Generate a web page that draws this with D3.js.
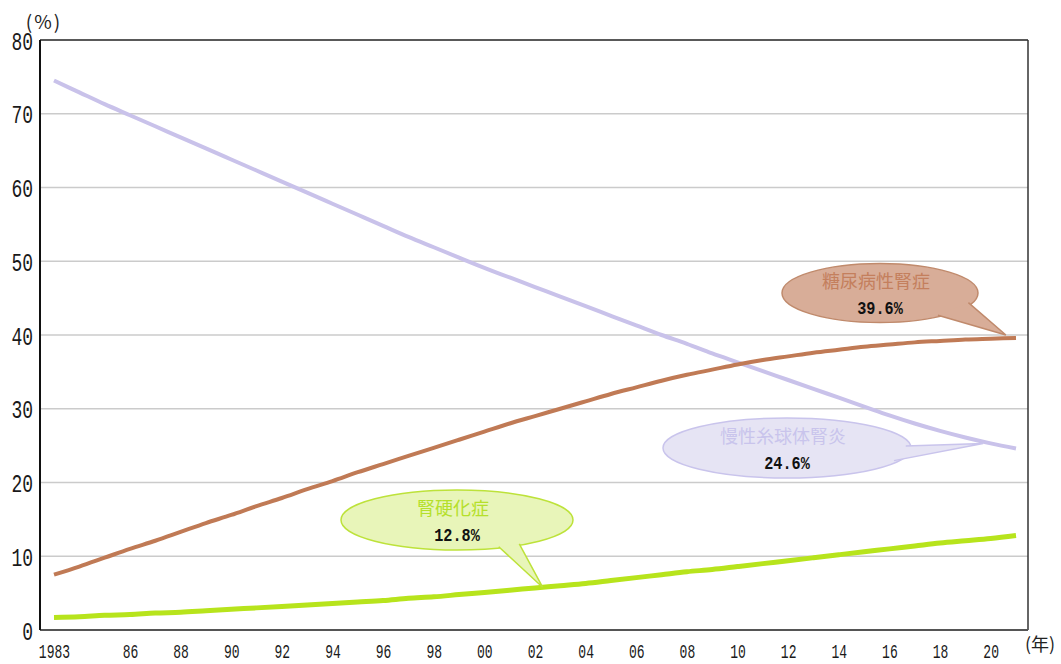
<!DOCTYPE html>
<html>
<head>
<meta charset="utf-8">
<script src="https://cdn.jsdelivr.net/npm/d3@7"></script>
<style>
  html, body { margin: 0; padding: 0; background: #fff; }
  svg { display: block; }
</style>
</head>
<body>
<svg id="chart" width="1061" height="664"></svg>
<script>
// Share of new dialysis patients by primary disease (%), 1983–2021
const years = d3.range(1983, 2022);

const diabetic = [7.5, 8.6, 9.8, 11.0, 12.1, 13.3, 14.5, 15.6, 16.8, 17.9,
  19.1, 20.2, 21.4, 22.5, 23.6, 24.7, 25.8, 26.9, 28.0, 29.0,
  30.0, 31.0, 32.0, 32.9, 33.8, 34.6, 35.3, 36.0, 36.6, 37.1,
  37.6, 38.0, 38.4, 38.7, 39.0, 39.2, 39.4, 39.5, 39.6];

const glomerulo = [74.5, 72.9, 71.3, 69.8, 68.3, 66.8, 65.3, 63.8, 62.3, 60.8,
  59.3, 57.8, 56.3, 54.8, 53.3, 51.9, 50.5, 49.1, 47.8, 46.5,
  45.2, 43.9, 42.6, 41.3, 40.0, 38.8, 37.5, 36.3, 35.1, 33.9,
  32.7, 31.5, 30.3, 29.1, 28.0, 27.0, 26.1, 25.3, 24.6];

const sclerosis = [1.7, 1.8, 2.0, 2.1, 2.3, 2.4, 2.6, 2.8, 3.0, 3.2,
  3.4, 3.6, 3.8, 4.0, 4.3, 4.5, 4.8, 5.1, 5.4, 5.7,
  6.0, 6.3, 6.7, 7.1, 7.5, 7.9, 8.2, 8.6, 9.0, 9.4,
  9.8, 10.2, 10.6, 11.0, 11.4, 11.8, 12.1, 12.4, 12.8];

const yTicks = [0, 10, 20, 30, 40, 50, 60, 70, 80];
const xTicks = [1983, 1986, 1988, 1990, 1992, 1994, 1996, 1998, 2000, 2002,
  2004, 2006, 2008, 2010, 2012, 2014, 2016, 2018, 2020];
const xTickLabels = ["1983", "86", "88", "90", "92", "94", "96", "98", "00", "02",
  "04", "06", "08", "10", "12", "14", "16", "18", "20"];

// Series styling and callout layout
const series = [
  { name: "慢性糸球体腎炎", values: glomerulo, color: "#c9c2ea", width: 4 },
  { name: "糖尿病性腎症", values: diabetic, color: "#c07a55", width: 4 },
  { name: "腎硬化症", values: sclerosis, color: "#b7e41c", width: 5 }
];

const callouts = [
  { title: "糖尿病性腎症", value: 39.6, tip: [2020.6, 40.0],
    cx: 880, cy: 293, rx: 98, ry: 29.5, a1: 52, a2: 20,
    fill: "#d8ad98", stroke: "#c08a6c", text: "#c47f5d" },
  { title: "慢性糸球体腎炎", value: 24.6, tip: [2019.7, 25.3],
    cx: 787, cy: 448, rx: 124, ry: 30, a1: 26, a2: -4,
    fill: "#e6e4f4", stroke: "#c9c4ec", text: "#c9c4ec" },
  { title: "腎硬化症", value: 12.8, tip: [2002.3, 5.8],
    cx: 457, cy: 520, rx: 116, ry: 30, a1: 68, a2: 56,
    fill: "#e8f5b9", stroke: "#bde23a", text: "#b5e02a" }
];

const svg = d3.select("#chart");
const plot = { left: 40, right: 1028, top: 40, bottom: 630 };

const x = d3.scaleLinear().domain([1983, 2021]).range([54, 1016]);
const y = d3.scaleLinear().domain([0, 80]).range([plot.bottom, plot.top]);

// Horizontal gridlines
svg.append("g")
  .selectAll("line")
  .data(yTicks.filter(d => d > 0 && d < 80))
  .join("line")
  .attr("x1", plot.left).attr("x2", plot.right)
  .attr("y1", d => y(d)).attr("y2", d => y(d))
  .attr("stroke", "#cbcbcb").attr("stroke-width", 1.5);

// Frame
svg.append("line").attr("x1", plot.left).attr("x2", plot.right)
  .attr("y1", plot.top).attr("y2", plot.top)
  .attr("stroke", "#222").attr("stroke-width", 1.5);
svg.append("line").attr("x1", plot.right).attr("x2", plot.right)
  .attr("y1", plot.top).attr("y2", plot.bottom)
  .attr("stroke", "#333").attr("stroke-width", 1.5);
svg.append("line").attr("x1", plot.left).attr("x2", plot.right)
  .attr("y1", plot.bottom).attr("y2", plot.bottom)
  .attr("stroke", "#555").attr("stroke-width", 2);
svg.append("line").attr("x1", plot.left).attr("x2", plot.left)
  .attr("y1", plot.top).attr("y2", plot.bottom)
  .attr("stroke", "#111").attr("stroke-width", 2);

const tickFont = "'Liberation Mono', 'DejaVu Sans Mono', monospace";

// Y axis labels
const yAxis = d3.axisLeft(y).tickValues(yTicks).tickSize(0).tickPadding(0);
const gy = svg.append("g").attr("transform", `translate(${plot.left},0)`).call(yAxis);
gy.select(".domain").remove();
gy.selectAll(".tick text")
  .attr("x", 0).attr("dy", "0.36em")
  .attr("text-anchor", "end")
  .attr("transform", "translate(-7,0) scale(0.72,1)")
  .style("font-family", tickFont).style("font-size", "25px").attr("fill", "#1a1a1a");

// X axis labels
const xAxis = d3.axisBottom(x).tickValues(xTicks)
  .tickFormat((d, i) => xTickLabels[i]).tickSize(0).tickPadding(0);
const gx = svg.append("g").attr("transform", `translate(0,${plot.bottom})`).call(xAxis);
gx.select(".domain").remove();
gx.selectAll(".tick text")
  .attr("y", 0).attr("dy", 0)
  .attr("transform", "translate(0,28) scale(0.62,1)")
  .style("font-family", tickFont).style("font-size", "21px").attr("fill", "#1a1a1a");

// Unit labels
svg.append("text").attr("x", 44).attr("y", 29).attr("text-anchor", "middle")
  .style("font-family", "'Noto Sans CJK JP', sans-serif").style("font-size", "19px")
  .style("letter-spacing", "2px")
  .attr("fill", "#222").text("(%)");
svg.append("text").attr("x", 1040).attr("y", 651).attr("text-anchor", "middle")
  .style("font-family", "'Noto Sans CJK JP', sans-serif").style("font-size", "18px")
  .attr("fill", "#222").text("(年)");

// Lines
const line = d3.line().x((d, i) => x(years[i])).y(d => y(d)).curve(d3.curveMonotoneX);
svg.append("g")
  .selectAll("path")
  .data(series)
  .join("path")
  .attr("d", d => line(d.values))
  .attr("fill", "none")
  .attr("stroke", d => d.color)
  .attr("stroke-width", d => d.width)
  .attr("stroke-linejoin", "round");

// Speech-bubble callouts
const rad = a => a * Math.PI / 180;
const cg = svg.append("g").selectAll("g").data(callouts).join("g");
cg.append("ellipse")
  .attr("cx", d => d.cx).attr("cy", d => d.cy)
  .attr("rx", d => d.rx).attr("ry", d => d.ry)
  .attr("fill", d => d.fill).attr("stroke", d => d.stroke).attr("stroke-width", 1.5);
cg.append("path")
  .attr("d", d => {
    const k = 0.96;
    const b1 = [d.cx + k * d.rx * Math.cos(rad(d.a1)), d.cy + k * d.ry * Math.sin(rad(d.a1))];
    const b2 = [d.cx + k * d.rx * Math.cos(rad(d.a2)), d.cy + k * d.ry * Math.sin(rad(d.a2))];
    const t = [x(d.tip[0]), y(d.tip[1])];
    return `M${b1[0]},${b1[1]}L${t[0]},${t[1]}L${b2[0]},${b2[1]}`;
  })
  .attr("fill", d => d.fill).attr("stroke", d => d.stroke).attr("stroke-width", 1.5)
  .attr("stroke-linejoin", "miter");
cg.append("text")
  .attr("x", d => d.cx - 4).attr("y", d => d.cy - 5)
  .attr("text-anchor", "middle")
  .style("font-family", "'Noto Sans CJK JP', sans-serif").style("font-size", "18px")
  .attr("fill", d => d.text).text(d => d.title);
cg.append("text")
  .attr("x", 0).attr("y", 0)
  .attr("text-anchor", "middle")
  .attr("transform", d => `translate(${d.cx},${d.cy + 21}) scale(0.8,1)`)
  .style("font-family", tickFont).style("font-size", "19px").style("font-weight", "bold")
  .attr("fill", "#111").text(d => d.value.toFixed(1) + "%");
</script>
</body>
</html>
